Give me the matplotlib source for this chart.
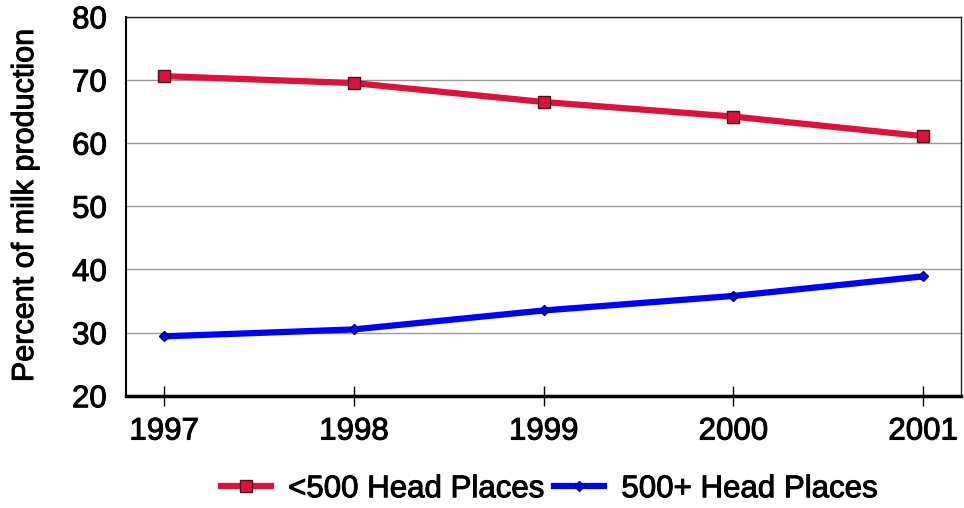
import numpy as np
import matplotlib
matplotlib.use('Agg')
from matplotlib import pyplot as plt
from matplotlib import rcParams
import matplotlib.patheffects as pe

years = ['1997', '1998', '1999', '2000', '2001']
small_places = [70.6, 69.5, 66.5, 64.2, 61.1]   # <500 head
large_places = [29.4, 30.5, 33.5, 35.8, 38.9]   # 500+ head

rcParams['font.family'] = ['Liberation Sans', 'DejaVu Sans']
heavy = [pe.withStroke(linewidth=0.7, foreground='black')]

fig = plt.figure(figsize=(9.64, 5.08), dpi=100)
ax = fig.add_axes([0.131, 0.221, 0.866, 0.746])

x = np.arange(len(years))
ax.plot(x, small_places, color='#e0103c', lw=4.5, marker='s', ms=8,
        mfc='#e0103c', mec='#50101a', mew=1.0, label='<500 Head Places',
        zorder=3)
ax.plot(x, large_places, color='#0000ff', lw=4.5, marker='D', ms=5,
        mfc='#0000ff', mec='#000060', mew=1.0, label='500+ Head Places',
        zorder=3)

ax.set_xlim(-0.2, 4.2)
ax.set_ylim(20, 80)
ax.set_yticks(range(20, 81, 10))
ax.set_xticks(x)
ax.set_xticklabels(years)
ax.yaxis.grid(True, color='#999999', lw=1.0)
ax.set_axisbelow(True)

for s in ['top', 'right']:
    ax.spines[s].set_color('#222222')
    ax.spines[s].set_linewidth(1.0)
ax.spines['left'].set_linewidth(1.5)
ax.spines['bottom'].set_linewidth(2.5)
ax.tick_params(axis='x', direction='inout', length=14, width=1.0,
               labelsize=22.5, pad=8)
ax.tick_params(axis='y', length=0, labelsize=22.5, pad=14)
ax.set_ylabel('Percent of milk production', fontsize=22, labelpad=23)

for t in ax.get_xticklabels() + ax.get_yticklabels():
    t.set_path_effects(heavy)
ax.yaxis.label.set_path_effects(heavy)

leg = fig.legend(loc='center', bbox_to_anchor=(0.57, 0.037), ncol=2,
                 frameon=False, fontsize=22.5, handlelength=1.6,
                 columnspacing=0.3, handletextpad=0.55, borderpad=0,
                 borderaxespad=0)
for t in leg.get_texts():
    t.set_path_effects(heavy)

plt.savefig('out.png', dpi=100)
